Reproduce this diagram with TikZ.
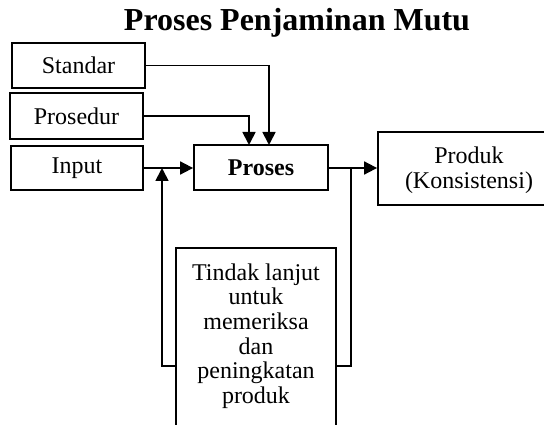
\documentclass[tikz,border=0pt]{standalone}
\usepackage{fontspec}
\setmainfont{Liberation Serif}
\usetikzlibrary{arrows.meta}
\tikzset{
  box/.style={draw, line width=1.8pt, inner sep=0pt, font=\fontsize{24}{24.6}\selectfont},
  conn/.style={line width=1.8pt},
  arr/.style={conn, -{Triangle[length=13pt,width=13pt]}},
  txt/.style={inner sep=0pt, align=center, font=\fontsize{24}{24.6}\selectfont}
}
\begin{document}
\begin{tikzpicture}[x=1pt, y=-1pt]
\useasboundingbox (0,0) rectangle (544,425);
\clip (0,0) rectangle (544,425);
\fill[white] (0,0) rectangle (544,425);
% title
\node[inner sep=0pt, anchor=base, font=\fontsize{32}{36}\selectfont\bfseries] (title) at (297,31) {Proses Penjaminan Mutu};
% left boxes
\node[box, minimum width=133, minimum height=45] (std) at (78.5,65.5) {Standar};
\node[box, minimum width=133, minimum height=46] (pro) at (76.5,116) {Prosedur};
\node[box, minimum width=132, minimum height=44] (inp) at (77,168) {Input};
% process
\node[box, minimum width=134, minimum height=45, font=\fontsize{24}{24.6}\selectfont\bfseries] (proses) at (261,167.5) {Proses};
% product box (extends beyond right edge)
\node[box, minimum width=182, minimum height=73] (prod) at (469,168.5) {};
\node[txt] (prodt) at (469,170) {Produk\\(Konsistensi)};
% feedback box (extends beyond bottom edge)
\node[box, minimum width=160, minimum height=183, anchor=north] (fb) at (256,247) {};
\node[txt] (fbt) at (256,336) {Tindak lanjut\\untuk\\memeriksa\\dan\\peningkatan\\produk};
% coordinates
\coordinate (sd) at (269,145);
\coordinate (pd) at (249,145);
\coordinate (split) at (351,168);
\coordinate (join) at (162,168);
% connectors
\draw[arr] (std.east) -| (sd);
\draw[arr] (pro.east) -| (pd);
\draw[arr] (inp.east |- 0,168) -- (proses.west |- 0,168);
\draw[arr] (proses.east |- 0,168) -- (prod.west |- 0,168);
\draw[conn] (split) |- (fb.east |- 0,366);
\draw[arr] (fb.west |- 0,366) -| (join);
\end{tikzpicture}
\end{document}
